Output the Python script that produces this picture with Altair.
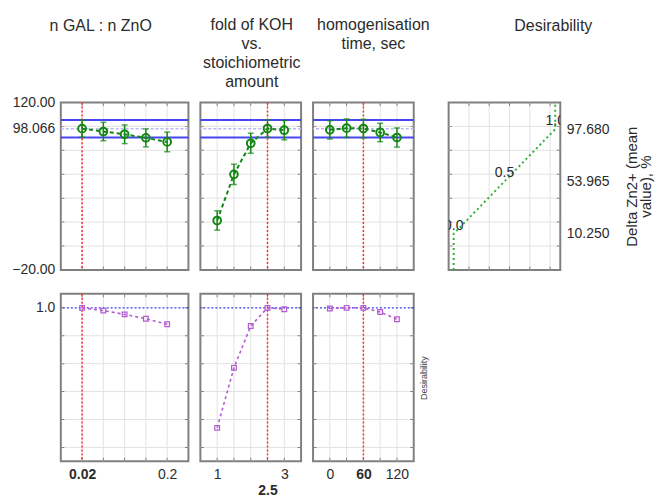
import altair as alt
import pandas as pd

FONT = "Liberation Sans"
GREEN = "#138613"
GREEN_LIGHT = "#33b033"
BLUE = "#4646f2"
BLUE_LIGHT = "#b9b9f7"
BLUE_DOT = "#3a3af5"
RED = "#ff2a2a"
PURPLE = "#b45ad2"
GRID = "#e2e2e2"
FRAME = "#808080"
TICK = "#555555"
TXT = "#2b2b2b"

# ---------------- data ----------------
gal_levels = [0.02, 0.065, 0.11, 0.155, 0.2]
gal_resp = [98.1, 95.7, 93.4, 90.4, 87.0]
gal_lo = [90.9, 88.0, 85.6, 82.9, 78.8]
gal_hi = [105.3, 103.4, 101.2, 97.9, 95.2]
gal_des = [1.0, 0.98, 0.953, 0.922, 0.882]

koh_levels = [1.0, 1.5, 2.0, 2.5, 3.0]
koh_resp = [21.3, 59.9, 85.9, 98.2, 96.8]
koh_lo = [13.2, 51.5, 77.5, 90.9, 88.7]
koh_hi = [29.4, 68.3, 94.3, 105.5, 104.9]
koh_des = [0.14, 0.57, 0.87, 1.0, 0.99]

time_levels = [0, 30, 60, 90, 120]
time_resp = [97.1, 98.5, 98.2, 94.9, 90.7]
time_lo = [89.4, 90.8, 90.5, 87.2, 82.7]
time_hi = [104.8, 106.2, 105.9, 102.6, 98.7]
time_des = [0.995, 1.0, 1.0, 0.97, 0.918]

current_values = [0.02, 2.5, 60]
pred_value = 98.066
pred_ci = [90.7, 105.4]

dfunc_d = [0.0, 0.0, 0.5, 1.0, 1.0]
dfunc_resp = [-20.0, 10.25, 53.965, 97.68, 120.0]
dfunc_label_text = ["0.0", "0.5", "1.0"]
dfunc_label_d = [0.0, 0.5, 1.0]
dfunc_label_resp = [10.25, 53.965, 97.68]

resp_grid = [0, 20, 40, 60, 80, 100]
resp_labels = [-20, 98.066, 120]
des_grid = [0, 0.2, 0.4, 0.6, 0.8, 1.0]
des_labels = [1.0]
dfunc_grid = [0.15, 0.35, 0.55, 0.75, 0.95]
dfunc_axis_labels = [10.25, 53.965, 97.68]

gal_xlabels = [0.02, 0.2]
koh_xlabels = [1, 3, 2.5]
time_xlabels = [0, 60, 120]

titles = [
    ["n GAL : n ZnO", " ", " ", " "],
    ["fold of KOH", "vs.", "stoichiometric", "amount"],
    ["homogenisation", "time, sec", " ", " "],
    ["Desirability", " ", " ", " "],
]
resp_title = ["Delta Zn2+ (mean", "value), %"]

resp_domain = [-20, 120]
des_domain = [-0.1, 1.1]
gal_domain = [-0.025, 0.245]
koh_domain = [0.5, 3.5]
time_domain = [-30, 150]
dfunc_domain = [-0.05, 1.05]

PH = 168


def sc(dom):
    return alt.Scale(domain=dom, nice=False, zero=False)


def ptitle(lines, dx, offset):
    return alt.TitleParams(text=lines, fontSize=16, fontWeight="normal", font=FONT,
                           color=TXT, lineHeight=19, anchor="middle", frame="group",
                           dx=dx, offset=offset)


def rule_kw(color, width, dash):
    kw = dict(color=color, strokeWidth=width)
    if dash:
        kw["strokeDash"] = dash
    return kw


class Panel:
    def __init__(self, xdom, ydom, xaxis, yaxis):
        self.xdom, self.ydom = xdom, ydom
        self.xs, self.ys = sc(xdom), sc(ydom)
        self.xa, self.ya = xaxis, yaxis

    def X(self, f):
        return alt.X(f, type="quantitative", scale=self.xs, axis=self.xa)

    def Y(self, f):
        return alt.Y(f, type="quantitative", scale=self.ys, axis=self.ya)

    def hrules(self, values, color, width=1.0, dash=None):
        return alt.Chart(pd.DataFrame({"v": values})).mark_rule(
            **rule_kw(color, width, dash)).encode(y=self.Y("v"))

    def vrules(self, values, color, width=1.0, dash=None):
        return alt.Chart(pd.DataFrame({"v": values})).mark_rule(
            **rule_kw(color, width, dash)).encode(x=self.X("v"))

    def frame_ticks(self, xvals, yvals):
        # small inward tick marks on the frame at the grid positions
        side = pd.DataFrame({"x": [self.xdom[0]] * len(yvals) + [self.xdom[1]] * len(yvals),
                             "y": list(yvals) * 2})
        tb = pd.DataFrame({"x": list(xvals) * 2,
                           "y": [self.ydom[0]] * len(xvals) + [self.ydom[1]] * len(xvals)})
        return [
            alt.Chart(side).mark_tick(orient="horizontal", size=7, thickness=1, color=TICK,
                                      clip=True).encode(x=self.X("x"), y=self.Y("y")),
            alt.Chart(tb).mark_tick(orient="vertical", size=7, thickness=1, color=TICK,
                                    clip=True).encode(x=self.X("x"), y=self.Y("y")),
        ]


def top_panel(levels, resp, lo, hi, xdom, cur, width, title, dx, offset, yaxis):
    p = Panel(xdom, resp_domain, None, yaxis)
    base = alt.Chart(pd.DataFrame({"x": levels, "y": resp, "lo": lo, "hi": hi}))
    layers = [
        p.hrules(resp_grid, GRID),
        p.vrules(levels, GRID),
        *p.frame_ticks(levels, resp_grid),
        p.hrules(pred_ci, BLUE, 2),
        p.hrules([pred_value], BLUE_LIGHT, 1.5, [3, 2]),
        p.vrules([cur], RED, 1.5, [2, 2]),
        base.mark_rule(color=GREEN, strokeWidth=1.5).encode(x=p.X("x"), y=p.Y("lo"), y2="hi:Q"),
        base.mark_tick(color=GREEN, orient="horizontal", size=6, thickness=1.5).encode(
            x=p.X("x"), y=p.Y("lo")),
        base.mark_tick(color=GREEN, orient="horizontal", size=6, thickness=1.5).encode(
            x=p.X("x"), y=p.Y("hi")),
        base.mark_line(color=GREEN, strokeWidth=2, strokeDash=[4, 3]).encode(
            x=p.X("x"), y=p.Y("y")),
        base.mark_point(shape="circle", filled=False, size=60, strokeWidth=2,
                        color=GREEN, opacity=1).encode(x=p.X("x"), y=p.Y("y")),
    ]
    return alt.layer(*layers).properties(width=width, height=PH,
                                         title=ptitle(title, dx, offset))


def bottom_panel(levels, des, xdom, cur, width, xaxis, yaxis):
    p = Panel(xdom, des_domain, xaxis, yaxis)
    base = alt.Chart(pd.DataFrame({"x": levels, "d": des}))
    layers = [
        p.hrules(des_grid[:-1], GRID),
        p.vrules(levels, GRID),
        *p.frame_ticks(levels, des_grid),
        p.hrules([1.0], BLUE_DOT, 1.3, [2, 2]),
        p.vrules([cur], RED, 1.5, [2, 2]),
        base.mark_line(color=PURPLE, strokeWidth=1.6, strokeDash=[3, 3]).encode(
            x=p.X("x"), y=p.Y("d")),
        base.mark_point(shape="square", filled=False, size=22, strokeWidth=1.2,
                        color=PURPLE, opacity=1).encode(x=p.X("x"), y=p.Y("d")),
    ]
    return alt.layer(*layers).properties(width=width, height=PH)


def xaxis(values, expr, bold_test):
    return alt.Axis(values=values, labelExpr=expr, grid=False, ticks=False, domain=False,
                    labelFontSize=14, labelColor=TXT, labelPadding=6, labelLineHeight=16,
                    labelOverlap=False, labelFlush=False, title=None,
                    labelFontWeight={"condition": {"test": bold_test, "value": "bold"},
                                     "value": "normal"})


yaxis_resp = alt.Axis(values=resp_labels,
                      labelExpr="datum.value == 98.066 ? '98.066' : format(datum.value, '.2f')",
                      grid=False, ticks=False, domain=False, labelFontSize=14, labelColor=TXT,
                      labelPadding=6, labelOverlap=False, labelFlush=False, title=None)
yaxis_des = alt.Axis(values=des_labels, format=".1f", grid=False, ticks=False, domain=False,
                     labelFontSize=14, labelColor=TXT, labelPadding=6, title=None)
raxis_des = alt.Axis(orient="right", labels=False, ticks=False, domain=False, grid=False,
                     title="Desirability", titleFontSize=9, titleFontWeight="normal",
                     titleColor="#444", titleAngle=270, titlePadding=15)

top1 = top_panel(gal_levels, gal_resp, gal_lo, gal_hi, gal_domain, current_values[0], 128,
                 titles[0], -24, 5, yaxis_resp)
top2 = top_panel(koh_levels, koh_resp, koh_lo, koh_hi, koh_domain, current_values[1], 101,
                 titles[1], 1, 12, None)
top3 = top_panel(time_levels, time_resp, time_lo, time_hi, time_domain, current_values[2], 101,
                 titles[2], 10, 12, None)

# desirability function panel
raxis_resp = alt.Axis(orient="right", values=dfunc_axis_labels, format=".3f", grid=False,
                      ticks=False, domain=False, labelFontSize=14, labelColor=TXT,
                      labelPadding=6, labelFlush=False, labelOverlap=False,
                      title=resp_title, titleFontSize=15, titleFontWeight="normal",
                      titleColor=TXT, titleAngle=270, titleLineHeight=14, titlePadding=17)
p4 = Panel(dfunc_domain, resp_domain, None, raxis_resp)
df4 = pd.DataFrame({"d": dfunc_d, "y": dfunc_resp, "o": list(range(len(dfunc_d)))})
lab4 = pd.DataFrame({"d": dfunc_label_d, "y": dfunc_label_resp, "t": dfunc_label_text})
top4 = alt.layer(
    p4.hrules(resp_grid, GRID),
    p4.vrules(dfunc_grid, GRID),
    *p4.frame_ticks(dfunc_grid, resp_grid),
    alt.Chart(df4).mark_line(color=GREEN_LIGHT, strokeWidth=2, strokeDash=[2, 3]).encode(
        x=p4.X("d"), y=p4.Y("y"), order="o:Q"),
    alt.Chart(lab4).mark_text(fontSize=14, color=TXT, baseline="bottom", dy=-1, clip=True).encode(
        x=p4.X("d"), y=p4.Y("y"), text="t:N"),
).properties(width=112, height=PH, title=ptitle(titles[3], 49, 8))

spacer = alt.Chart(pd.DataFrame({"a": [0]})).mark_point(opacity=0).encode(
    x=alt.X("a:Q", axis=None), y=alt.Y("a:Q", axis=None)
).properties(width=11, height=PH, view=alt.ViewBackground(stroke="transparent"))

bot1 = bottom_panel(gal_levels, gal_des, gal_domain, current_values[0], 128,
                    xaxis(gal_xlabels, "format(datum.value, '.2~f')", "datum.value == 0.02"),
                    yaxis_des)
bot2 = bottom_panel(koh_levels, koh_des, koh_domain, current_values[1], 101,
                    xaxis(koh_xlabels, "datum.value == 2.5 ? [' ', '2.5'] : format(datum.value, 'd')",
                          "datum.value == 2.5"), None)
bot3 = bottom_panel(time_levels, time_des, time_domain, current_values[2], 101,
                    xaxis(time_xlabels, "format(datum.value, 'd')", "datum.value == 60"),
                    raxis_des)

chart = alt.concat(top1, top2, top3, spacer, top4, bot1, bot2, bot3, columns=5,
                   spacing={"row": 24, "column": 12}, bounds="flush").properties(
    padding={"left": 10, "top": 15, "right": 0, "bottom": 0}
).configure(font=FONT).configure_view(stroke=FRAME, strokeWidth=2)

chart.save("out.html", embed_options={"renderer": "svg", "actions": False})
